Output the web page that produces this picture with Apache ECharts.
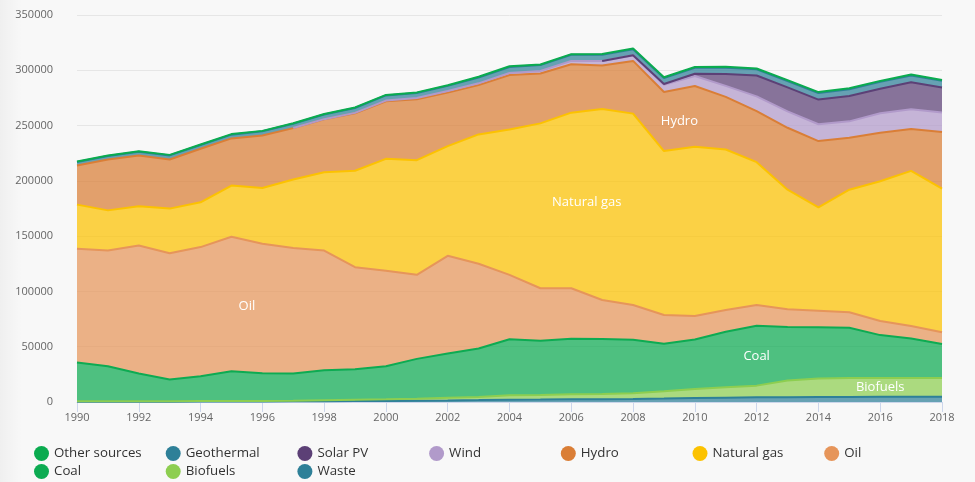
<!DOCTYPE html>
<html><head><meta charset="utf-8">
<script src="https://cdn.jsdelivr.net/npm/echarts@6/dist/echarts.min.js"></script>
<style>html,body{margin:0;padding:0;background:#f8f8f8}#c{width:975px;height:482px}</style>
</head><body><div id="c"></div>
<script>
const years = ['1990','1991','1992','1993','1994','1995','1996','1997','1998','1999','2000','2001','2002','2003','2004','2005','2006','2007','2008','2009','2010','2011','2012','2013','2014','2015','2016','2017','2018'];
const waste = [300,300,300,300,400,400,500,600,700,800,1000,1200,1400,1700,2100,2200,2400,2500,2700,3100,3600,3900,4200,4300,4500,4600,4800,4800,4800];
const biofuels = [300,300,400,400,400,500,500,600,900,1200,1400,1800,2400,2900,3900,4200,4600,4800,5200,6600,8200,9400,10600,15100,16700,17200,17000,17000,17000];
const coal = [35100,31800,25000,19600,22500,26900,25000,24500,27100,27600,30000,36000,40100,43800,50700,49000,50200,49600,48400,42900,44800,50200,54200,48400,46300,45300,38700,35700,30600];
const oil = [102900,104600,115900,114300,116800,121600,117100,113500,108300,92300,86200,76000,88300,76600,58300,47500,45700,35400,31400,26100,21200,19700,18700,16000,15100,14000,12700,11200,10600];
const naturalGas = [39900,36300,35400,40300,40500,46300,50500,62000,70800,87200,101300,103700,99200,117000,131500,149100,158800,172700,173100,148200,153000,145200,129200,108200,93400,110900,126400,140300,130000];
const hydro = [35400,46000,45900,44400,48400,42700,47500,46500,47800,52000,52100,55100,48400,44700,49300,45100,43800,39300,47700,53500,55000,47600,46100,56000,60000,47000,43900,38000,51100];
const wind = [null,null,null,null,null,null,null,100,200,400,600,1200,1400,1500,1800,2300,3000,4000,4900,6500,9100,9900,13400,14900,15200,14800,17700,17700,17700];
const solarPV = [null,null,null,null,null,null,null,null,null,null,null,null,null,null,null,null,null,40,200,700,1900,10800,18900,21600,22300,22900,22100,24400,22700];
const geothermal = [3200,3200,3500,3700,3400,3400,3800,3900,4200,4400,4700,4500,4700,5300,5400,5300,5500,5600,5500,5300,5400,5700,5600,5700,5900,6200,6300,6200,6100];
const otherSources = [400,400,300,500,500,500,300,400,400,500,400,500,500,600,600,500,600,700,700,800,800,900,700,900,900,900,800,800,700];

const yTicks = [0,50000,100000,150000,200000,250000,300000,350000];
const legendOrder = ['Other sources','Geothermal','Solar PV','Wind','Hydro','Natural gas','Oil','Coal','Biofuels','Waste'];
const areaLabels = ['Oil','Natural gas','Hydro','Coal','Biofuels'];
const areaLabelYears = [1995.5,2006.5,2009.5,2012,2016];
const areaLabelValues = [86800,180300,254000,41400,13300];

const FONT = '"Open Sans", "Noto Sans", sans-serif';
const defs = [
  ['Waste', waste, '#2e8098'],
  ['Biofuels', biofuels, '#8dce50'],
  ['Coal', coal, '#0dab52'],
  ['Oil', oil, '#e6955a'],
  ['Natural gas', naturalGas, '#fcc200'],
  ['Hydro', hydro, '#da7e36'],
  ['Wind', wind, '#b19aca'],
  ['Solar PV', solarPV, '#5c4076'],
  ['Geothermal', geothermal, '#2e8098'],
  ['Other sources', otherSources, '#0aab4f']
];
const series = defs.map(([name, vals, color]) => ({
  name, type: 'line', stack: 'total', symbol: 'none', smooth: false,
  data: vals.slice(),
  lineStyle: {width: 2, color},
  itemStyle: {color},
  areaStyle: {color, opacity: 0.72},
  emphasis: {disabled: true}
}));

const legends = legendOrder.map((name, k) => ({
  left: 34 + (k % 7) * 131.7, top: 446 + Math.floor(k / 7) * 18, padding: 0,
  icon: 'circle', itemWidth: 15, itemHeight: 15, selectedMode: false,
  textStyle: {fontFamily: FONT, fontSize: 13.3, color: '#333'},
  data: [name]
}));

const chart = echarts.init(document.getElementById('c'), null, {renderer: 'canvas'});
chart.setOption({
  backgroundColor: '#f8f8f8',
  animation: false,
  textStyle: {fontFamily: FONT},
  grid: {left: 77, right: 33, top: 15, bottom: 80, outerBoundsMode: 'none', containLabel: false},
  legend: legends,
  xAxis: {
    type: 'category', data: years, boundaryGap: false,
    axisLine: {show: true, lineStyle: {color: '#ccd6eb', width: 1}},
    axisTick: {show: true, length: 10, interval: 1, lineStyle: {color: '#ccd6eb'}},
    splitLine: {show: false},
    axisLabel: {color: '#666', fontSize: 11, margin: 10, interval: 1, fontFamily: FONT}
  },
  yAxis: {
    type: 'value', min: 0, max: 350000, interval: 50000,
    axisLine: {show: false}, axisTick: {show: false},
    splitLine: {lineStyle: {color: '#e6e6e6', width: 1}},
    axisLabel: {color: '#666', fontSize: 11, margin: 24, fontFamily: FONT, formatter: v => yTicks.includes(v) ? String(v) : ''}
  },
  series
});

function toPixel(year, value) {
  const i0 = Math.floor(year - 1990), f = (year - 1990) - i0;
  const i1 = Math.min(i0 + 1, years.length - 1);
  const a = chart.convertToPixel({gridIndex: 0}, [years[i0], value]);
  const b = chart.convertToPixel({gridIndex: 0}, [years[i1], value]);
  return [a[0] + (b[0] - a[0]) * f, a[1]];
}
const labelEls = areaLabels.map((t, i) => {
  const p = toPixel(areaLabelYears[i], areaLabelValues[i]);
  return {type: 'text', x: p[0], y: p[1], z: 100,
    style: {text: t, fill: '#ffffff', font: '13px ' + FONT, align: 'center', verticalAlign: 'middle'}};
});
chart.setOption({graphic: [
  {type: 'rect', left: 0, top: 0, z: -1, shape: {width: 22, height: 482}, silent: true,
   style: {fill: new echarts.graphic.LinearGradient(0, 0, 1, 0, [{offset: 0, color: 'rgba(0,0,0,0.035)'}, {offset: 1, color: 'rgba(0,0,0,0)'}])}}
].concat(labelEls)});
</script></body></html>
